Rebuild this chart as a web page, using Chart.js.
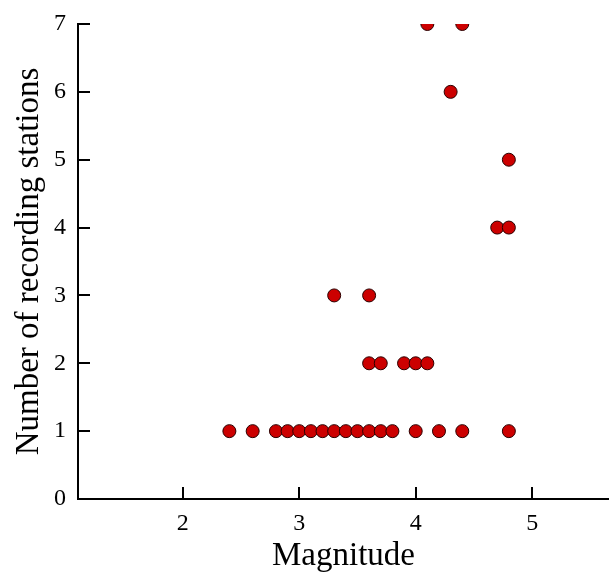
<!DOCTYPE html>
<html>
<head>
<meta charset="utf-8">
<script src="https://cdn.jsdelivr.net/npm/chart.js@4"></script>
<style>
  html, body { margin: 0; padding: 0; background: #fff; overflow: hidden; }
  canvas { display: block; }
</style>
</head>
<body>
<canvas id="scatter" width="609" height="572"></canvas>
<script>
// magnitude vs number of recording stations
const magnitude = [2.4, 2.6, 2.8, 2.9, 3.0, 3.1, 3.2, 3.3, 3.4, 3.5, 3.6, 3.7, 3.8, 4.0, 4.2, 4.4, 4.8,
                   3.6, 3.7, 3.9, 4.0, 4.1,
                   3.3, 3.6,
                   4.7, 4.8,
                   4.8,
                   4.3,
                   4.1, 4.4];
const stations = [1, 1, 1, 1, 1, 1, 1, 1, 1, 1, 1, 1, 1, 1, 1, 1, 1,
                  2, 2, 2, 2, 2,
                  3, 3,
                  4, 4,
                  5,
                  6,
                  7, 7];
const xTicks = [2, 3, 4, 5];
const yTicks = [0, 1, 2, 3, 4, 5, 6, 7];

const points = magnitude.map((m, i) => ({ x: m, y: stations[i] }));

// the x axis runs to the canvas edge in the original, so no room kept for point overflow
Chart.ScatterController.prototype.getMaxOverflow = function () { return 0; };

function noPad(s) {
  s.paddingLeft = 0; s.paddingRight = 0; s.paddingTop = 0; s.paddingBottom = 0;
}

// tick marks drawn inward, like the original plot
const innerTicks = {
  id: 'innerTicks',
  afterDraw(chart) {
    const ctx = chart.ctx;
    const xs = chart.scales.x, ys = chart.scales.y;
    const area = chart.chartArea;
    ctx.save();
    ctx.strokeStyle = '#000';
    ctx.lineWidth = 2;
    ctx.beginPath();
    xs.ticks.forEach(t => {
      const px = Math.round(xs.getPixelForValue(t.value));
      ctx.moveTo(px, area.bottom);
      ctx.lineTo(px, area.bottom - 12);
    });
    ys.ticks.forEach(t => {
      if (t.value === 0) return;
      const py = Math.round(ys.getPixelForValue(t.value));
      ctx.moveTo(area.left, py);
      ctx.lineTo(area.left + 12, py);
    });
    ctx.stroke();
    ctx.restore();
  }
};

const ctx = document.getElementById('scatter');

new Chart(ctx, {
  type: 'scatter',
  data: {
    datasets: [{
      label: 'Stations',
      data: points,
      pointStyle: 'circle',
      pointRadius: 6.5,
      pointHoverRadius: 6.5,
      pointBackgroundColor: '#cc0000',
      pointBorderColor: '#2a0000',
      pointBorderWidth: 1
    }]
  },
  options: {
    responsive: false,
    animation: false,
    layout: { padding: { top: 24, right: 0, left: 0, bottom: 0 } },
    plugins: {
      legend: { display: false },
      tooltip: { enabled: false }
    },
    scales: {
      x: {
        type: 'linear',
        min: 1.1,
        max: 5.66,
        afterBuildTicks: s => { s.ticks = xTicks.map(v => ({ value: v })); },
        afterFit: s => { s.height = 73; noPad(s); },
        grid: { display: false, drawTicks: false },
        border: { display: true, color: '#000', width: 2 },
        ticks: {
          color: '#000',
          padding: 10,
          font: { family: 'Liberation Serif', size: 24 }
        },
        title: {
          display: true,
          text: 'Magnitude',
          color: '#000',
          padding: { top: 0, bottom: -4 },
          font: { family: 'Liberation Serif', size: 33 }
        }
      },
      y: {
        type: 'linear',
        min: 0,
        max: 7,
        afterBuildTicks: s => { s.ticks = yTicks.map(v => ({ value: v })); },
        afterFit: s => { s.width = 78; noPad(s); },
        grid: { display: false, drawTicks: false },
        border: { display: true, color: '#000', width: 2 },
        ticks: {
          color: '#000',
          padding: 12,
          font: { family: 'Liberation Serif', size: 24 }
        },
        title: {
          display: true,
          text: 'Number of recording stations',
          color: '#000',
          padding: { top: 10, bottom: 0 },
          font: { family: 'Liberation Serif', size: 33 }
        }
      }
    }
  },
  plugins: [innerTicks]
});
</script>
</body>
</html>
